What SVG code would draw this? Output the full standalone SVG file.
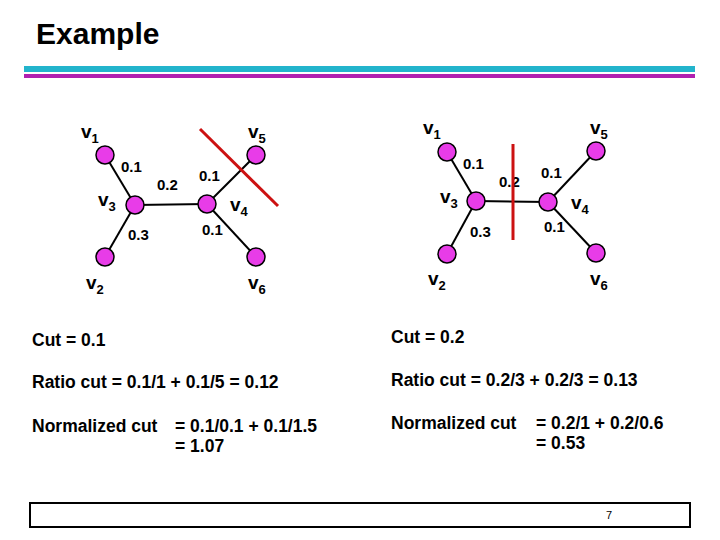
<svg xmlns="http://www.w3.org/2000/svg" width="720" height="540" viewBox="0 0 720 540">
<style>
text{font-family:"Liberation Sans",Arial,sans-serif;font-weight:bold;fill:#000}
.n{fill:#e83ce8;stroke:#000;stroke-width:1.5}
.e{stroke:#000;stroke-width:2}
.w{font-size:15px}
.v{font-size:19px}
.s{font-size:13px}
.t{font-size:17.5px}
.cut{stroke:#cc1111;stroke-width:3}
</style>
<rect width="720" height="540" fill="#fff"/>
<text x="36" y="44" style="font-size:30px">Example</text>
<rect x="24" y="66" width="671" height="6" fill="#22b4cc"/>
<rect x="24" y="74" width="671" height="4" fill="#b020b0"/>
<g id="connectors">
<line class="e" x1="105" y1="155" x2="135" y2="205"/>
<line class="e" x1="135" y1="205" x2="207" y2="204"/>
<line class="e" x1="105" y1="257" x2="135" y2="205"/>
<line class="e" x1="207" y1="204" x2="256" y2="155"/>
<line class="e" x1="207" y1="204" x2="256" y2="257"/>
<line class="e" x1="447" y1="152" x2="476" y2="201"/>
<line class="e" x1="476" y1="201" x2="548" y2="202"/>
<line class="e" x1="447" y1="254" x2="476" y2="201"/>
<line class="e" x1="548" y1="202" x2="596" y2="151"/>
<line class="e" x1="548" y1="202" x2="596" y2="253"/>
</g>
<g id="L_v1"><circle class="n" cx="105" cy="155" r="9"/><text class="v" x="81" y="138">v<tspan class="s" dy="5">1</tspan></text></g>
<g id="L_v3"><circle class="n" cx="135" cy="205" r="9"/><text class="v" x="98" y="206">v<tspan class="s" dy="5">3</tspan></text></g>
<g id="L_v2"><circle class="n" cx="105" cy="257" r="9"/><text class="v" x="86" y="289">v<tspan class="s" dy="5">2</tspan></text></g>
<g id="L_v4"><circle class="n" cx="207" cy="204" r="9"/><text class="v" x="230" y="211">v<tspan class="s" dy="5">4</tspan></text></g>
<g id="L_v5"><circle class="n" cx="256" cy="155" r="9"/><text class="v" x="248" y="138">v<tspan class="s" dy="5">5</tspan></text></g>
<g id="L_v6"><circle class="n" cx="256" cy="257" r="9"/><text class="v" x="248" y="289">v<tspan class="s" dy="5">6</tspan></text></g>
<text class="w" x="121" y="172">0.1</text>
<text class="w" x="157" y="190">0.2</text>
<text class="w" x="199" y="181">0.1</text>
<text class="w" x="128" y="240">0.3</text>
<text class="w" x="202" y="235">0.1</text>
<line class="cut" x1="200" y1="129" x2="278" y2="206"/>
<g id="R_v1"><circle class="n" cx="447" cy="152" r="9"/><text class="v" x="423" y="134">v<tspan class="s" dy="5">1</tspan></text></g>
<g id="R_v3"><circle class="n" cx="476" cy="201" r="9"/><text class="v" x="440" y="203">v<tspan class="s" dy="5">3</tspan></text></g>
<g id="R_v2"><circle class="n" cx="447" cy="254" r="9"/><text class="v" x="428" y="285">v<tspan class="s" dy="5">2</tspan></text></g>
<g id="R_v4"><circle class="n" cx="548" cy="202" r="9"/><text class="v" x="571" y="209">v<tspan class="s" dy="5">4</tspan></text></g>
<g id="R_v5"><circle class="n" cx="596" cy="151" r="9"/><text class="v" x="590" y="134">v<tspan class="s" dy="5">5</tspan></text></g>
<g id="R_v6"><circle class="n" cx="596" cy="253" r="9"/><text class="v" x="590" y="285">v<tspan class="s" dy="5">6</tspan></text></g>
<text class="w" x="463" y="169">0.1</text>
<text class="w" x="499" y="187">0.2</text>
<text class="w" x="541" y="178">0.1</text>
<text class="w" x="470" y="237">0.3</text>
<text class="w" x="544" y="232">0.1</text>
<line class="cut" x1="513" y1="144" x2="513" y2="240"/>
<text class="t" x="32" y="346">Cut = 0.1</text>
<text class="t" x="32" y="388">Ratio cut = 0.1/1 + 0.1/5 = 0.12</text>
<text class="t" x="32" y="432">Normalized cut</text>
<text class="t" x="175" y="432">= 0.1/0.1 + 0.1/1.5</text>
<text class="t" x="175" y="452">= 1.07</text>
<text class="t" x="391" y="343">Cut = 0.2</text>
<text class="t" x="391" y="386">Ratio cut = 0.2/3 + 0.2/3 = 0.13</text>
<text class="t" x="391" y="429">Normalized cut</text>
<text class="t" x="536" y="429">= 0.2/1 + 0.2/0.6</text>
<text class="t" x="536" y="449">= 0.53</text>
<rect x="30" y="503" width="660" height="24" fill="none" stroke="#000" stroke-width="2"/>
<text x="606" y="519" style="font-size:11px;font-weight:normal">7</text>
</svg>
